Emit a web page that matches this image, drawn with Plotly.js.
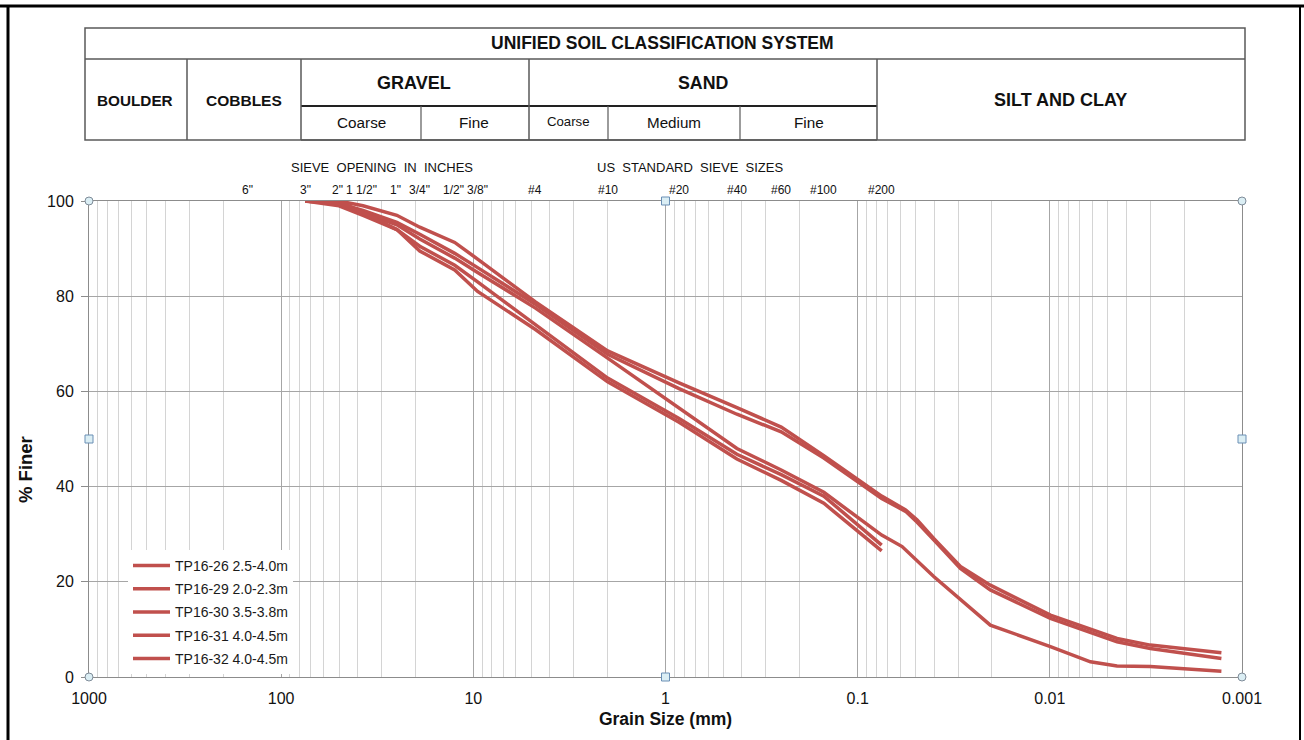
<!DOCTYPE html>
<html><head><meta charset="utf-8">
<script src="https://cdn.plot.ly/plotly-3.0.1.min.js"></script>
<style>html,body{margin:0;padding:0;background:#fff;overflow:hidden}#chart{width:1304px;height:740px}</style>
</head><body><div id="chart"></div>
<script>
// ---------- data ----------
const seriesNames = ['TP16-26 2.5-4.0m','TP16-29 2.0-2.3m','TP16-30 3.5-3.8m','TP16-31 4.0-4.5m','TP16-32 4.0-4.5m'];
const sieveSizes = [75, 50, 37.5, 25, 19, 12.5, 9.5, 4.75, 2.0, 0.85, 0.425, 0.25, 0.15, 0.075];
const hydroSizesA = [0.0563, 0.049, 0.0402, 0.0292, 0.0204, 0.00993, 0.00447, 0.003, 0.00128];
const hydroSizesB = [0.0587, 0.0402, 0.0292, 0.0204, 0.00993, 0.00615, 0.00447, 0.003, 0.00128];

const tp1626 = [100,100,99,97,94.5,91.3,87.8,78.8, 68.5,61.8,56.6,52.5,46.5,38, 35.1,33.0,29.1,23.2,19.3,13.0,8.1,6.7,5.1];
const tp1629 = [100,99,97,94,90.5,86.5,83,74, 62.8,54.3,46.8,42.5,38,27.7];
const tp1630 = [100,99.5,98,95.5,93,89,86,78.3, 67.8,60.6,55.2,51.5,46,37.5, 34.8,32.5,28.8,22.8,18.3,12.3,7.4,6.0,3.9];
const tp1631 = [100,99.5,97.5,95,92,88,85,77.5, 67,56.5,48,43.5,38.8,29.8, 27.4,21.1,16.2,10.9,6.4,3.2,2.3,2.2,1.2];
const tp1632 = [100,100,97.5,94,89.5,85.5,81,73, 62,53.5,45.8,41.3,36.5,26.5];

const xTickVals = [1000, 100, 10, 1, 0.1, 0.01, 0.001];
const xTickText = ['1000','100','10','1','0.1','0.01','0.001'];

const sieveLabels = ['6"','3"','2"','1 1/2"','1"','3/4"','1/2"','3/8"','#4','#10','#20','#40','#60','#100','#200'];
const sieveLabelSizes = [150, 75, 50.8, 38.1, 25.4, 19.05, 12.7, 9.525, 4.75, 2.0, 0.85, 0.425, 0.25, 0.15, 0.075];

// ---------- helpers ----------
const L = 89, R = 1242, T = 201, B = 677;
const px = x => (x - L) / (R - L);
const py = y => (B - y) / (B - T);
const FONT = 'Liberation Sans, Arial, sans-serif';
const RED = '#c0504d';

const curves = [
  {name: seriesNames[0], x: sieveSizes.concat(hydroSizesA), y: tp1626},
  {name: seriesNames[1], x: sieveSizes, y: tp1629},
  {name: seriesNames[2], x: sieveSizes.concat(hydroSizesA), y: tp1630},
  {name: seriesNames[3], x: sieveSizes.concat(hydroSizesB), y: tp1631},
  {name: seriesNames[4], x: sieveSizes, y: tp1632}
];

const traces = curves.map((c, i) => ({
  type: 'scatter', mode: 'lines', name: c.name, x: c.x, y: c.y,
  legendgroup: 'g' + i,
  line: {color: RED, width: 3.5}
}));

// ---------- header table & decorations ----------
const shapes = [];
const hl = (x0, y0, x1, y1, color, w) => shapes.push({type: 'line', xref: 'paper', yref: 'paper',
  x0: px(x0), y0: py(y0), x1: px(x1), y1: py(y1), line: {color: color, width: w}});
const TC = '#595959';
// outer frame of the figure
hl(0, 6, 1304, 6, '#000', 3);
hl(8, 5, 8, 745, '#000', 3);
hl(1300, 5, 1300, 745, '#000', 2);
// legend background
shapes.push({type: 'rect', xref: 'paper', yref: 'paper', layer: 'between',
  x0: px(98), x1: px(322), y0: py(668), y1: py(553), fillcolor: '#fff', line: {width: 0}});
// table
shapes.push({type: 'rect', xref: 'paper', yref: 'paper', x0: px(85), x1: px(1245), y0: py(140), y1: py(28),
  line: {color: TC, width: 1.5}});
hl(85, 59, 1245, 59, TC, 1.5);
hl(301, 106, 877, 106, '#222', 2);
hl(301, 140, 877, 140, TC, 1.5);
[187, 301, 529, 877].forEach(x => hl(x, 59, x, 140, TC, 1.5));
[421, 608, 740].forEach(x => hl(x, 106, x, 140, TC, 1.2));

// selection handles
const handle = (xp, yp, kind) => shapes.push({type: kind, xref: 'paper', yref: 'paper',
  xsizemode: 'pixel', ysizemode: 'pixel', xanchor: xp, yanchor: yp,
  x0: -4, x1: 4, y0: -4, y1: 4, fillcolor: '#dbeef4',
  line: {color: kind === 'circle' ? '#7f8c99' : '#6a8fb5', width: 1}});
[[0,0],[1,0],[0,1],[1,1]].forEach(p => handle(p[0], p[1], 'circle'));
[[0.5,0],[0.5,1],[0,0.5],[1,0.5]].forEach(p => handle(p[0], p[1], 'rect'));

const ann = [];
const txt = (x, y, text, size, bold, angle) => ann.push({xref: 'paper', yref: 'paper', x: px(x), y: py(y),
  text: bold ? '<b>' + text + '</b>' : text, showarrow: false, xanchor: 'center', yanchor: 'middle',
  textangle: angle || 0,
  font: {family: FONT, size: size, color: '#111'}});
txt(662, 43, 'UNIFIED SOIL CLASSIFICATION SYSTEM', 17.5, true);
txt(135, 100, 'BOULDER', 15.3, true);
txt(244, 100, 'COBBLES', 15.5, true);
txt(414, 83, 'GRAVEL', 18, true);
txt(703, 83, 'SAND', 17.8, true);
txt(1060, 100, 'SILT AND CLAY', 18, true);
txt(361, 123, 'Coarse', 15.3, false);
txt(474, 123, 'Fine', 15.3, false);
txt(568, 122, 'Coarse', 13.2, false);
txt(674, 123, 'Medium', 15.2, false);
txt(809, 123, 'Fine', 15.3, false);
txt(382, 167, 'SIEVE&nbsp; OPENING&nbsp; IN&nbsp; INCHES', 13, false);
txt(690, 167, 'US&nbsp; STANDARD&nbsp; SIEVE&nbsp; SIZES', 13, false);
txt(25, 470, '% Finer', 18.5, true, -90);

sieveLabels.forEach((s, i) => ann.push({xref: 'x', yref: 'paper', x: Math.log10(sieveLabelSizes[i]), y: py(190),
  text: s, showarrow: false, xanchor: 'center', yanchor: 'middle',
  font: {family: FONT, size: 12, color: '#111'}}));

const layout = {
  width: 1304, height: 740,
  margin: {l: L, r: 1304 - R, t: T, b: 740 - B, pad: 0},
  paper_bgcolor: '#fff', plot_bgcolor: '#fff',
  font: {family: FONT, color: '#111'},
  showlegend: true,
  legend: {x: px(128), y: py(550), xanchor: 'left', yanchor: 'top', bgcolor: '#fff', borderwidth: 0,
    font: {family: FONT, size: 14, color: '#1a1a1a'}, tracegroupgap: 2, itemwidth: 37},
  xaxis: {
    type: 'log', range: [3, -3], tickmode: 'array', tickvals: xTickVals, ticktext: xTickText,
    showgrid: true, gridcolor: '#a6a6a6', gridwidth: 1,
    minor: {dtick: 'D1', showgrid: true, gridcolor: '#d4d4d4', gridwidth: 1},
    showline: true, linecolor: '#8c8c8c', linewidth: 1, mirror: true, zeroline: false,
    ticks: '', ticklabelstandoff: 7, tickfont: {family: FONT, size: 16, color: '#111'},
    title: {text: '<b>Grain Size (mm)</b>', font: {family: FONT, size: 17.5, color: '#111'}, standoff: 6}
  },
  yaxis: {
    range: [0, 100], dtick: 20, tick0: 0,
    showgrid: true, gridcolor: '#a6a6a6', gridwidth: 1,
    showline: true, linecolor: '#8c8c8c', linewidth: 1, mirror: true, zeroline: false,
    ticks: 'outside', ticklen: 7, tickcolor: '#8c8c8c', ticklabelstandoff: 4,
    tickfont: {family: FONT, size: 16, color: '#111'}
  },
  shapes: shapes,
  annotations: ann
};

Plotly.newPlot('chart', traces, layout, {displayModeBar: false, staticPlot: true});
</script></body></html>
